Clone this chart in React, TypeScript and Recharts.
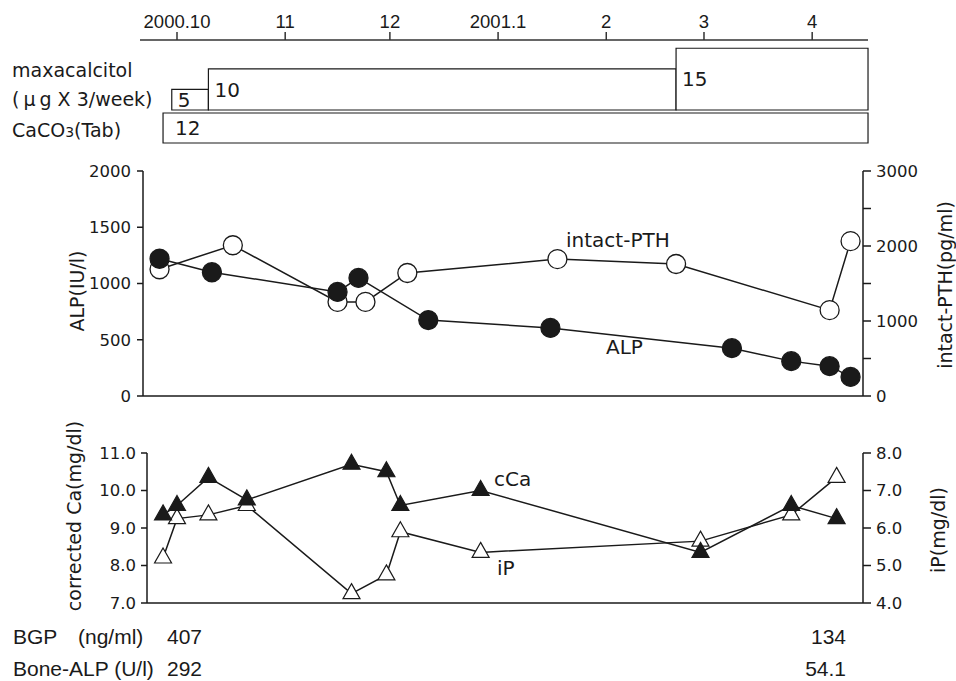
import { ComposedChart, Line, XAxis, YAxis, ReferenceArea, ReferenceLine } from 'recharts'

// x values are days counted from 2000-10-01
const monthTicks = [0, 31, 61, 92, 123, 151, 182]
const monthLabels = ['2000.10', '11', '12', '2001.1', '2', '3', '4']

const maxaStart = [-1.5, 9, 143]
const maxaEnd = [9, 143, 198]
const maxaDose = [5, 10, 15]

const caco3Start = [-4]
const caco3End = [198]
const caco3Dose = [12]

const alpDays = [-5, 10, 46, 52, 72, 107, 159, 176, 187, 193]
const alpValues = [1220, 1100, 925, 1050, 675, 605, 425, 310, 265, 170]

const pthDays = [-5, 16, 46, 54, 66, 109, 143, 187, 193]
const pthValues = [1690, 2010, 1255, 1255, 1640, 1825, 1760, 1145, 2065]

const caDays = [-4, 0, 9, 20, 50, 60, 64, 87, 150, 176, 189]
const cCaValues = [9.35, 9.6, 10.35, 9.75, 10.7, 10.5, 9.6, 10.0, 8.35, 9.6, 9.25]
const iPValues = [5.2, 6.25, 6.35, 6.6, 4.25, 4.75, 5.9, 5.35, 5.65, 6.35, 7.35]

const alpTicks = [0, 500, 1000, 1500, 2000]
const pthTicks = [0, 500, 1000, 1500, 2000, 2500, 3000]
const caTicks = [7, 8, 9, 10, 11]
const ipTicks = [4, 5, 6, 7, 8]

// pixel placement of the time axis (px = PX0 + PXD * day)
const PX0 = 177
const PXD = 3.49
const dom = (l: number, r: number): [number, number] => [(l - PX0) / PXD, (r - PX0) / PXD]

const INK = '#1a1a1a'
const tickFont = { fontFamily: 'DejaVu Sans', fontSize: 16.5, fill: INK }

const toPoints = (xs: number[], ys: number[]) => xs.map((d, i) => ({ day: d, v: ys[i] }))

const alpData = toPoints(alpDays, alpValues)
const pthData = toPoints(pthDays, pthValues)
const cCaData = toPoints(caDays, cCaValues)
const iPData = toPoints(caDays, iPValues)
const tickData = monthTicks.map((d) => ({ day: d }))

function circleDot(filled: boolean) {
  return (p: any) => (
    <circle
      key={`c-${p.index}`}
      cx={p.cx}
      cy={p.cy}
      r={9.5}
      fill={filled ? INK : '#fff'}
      stroke={INK}
      strokeWidth={1.3}
    />
  )
}

function triDot(filled: boolean) {
  return (p: any) => {
    const w = 17
    const h = 15
    const d = `M${p.cx},${p.cy - (2 * h) / 3} L${p.cx + w / 2},${p.cy + h / 3} L${p.cx - w / 2},${p.cy + h / 3} Z`
    return <path key={`t-${p.index}`} d={d} fill={filled ? INK : '#fff'} stroke={INK} strokeWidth={1.2} />
  }
}

function Txt({ x, y, size = 19, family = 'DejaVu Sans', right, children }: any) {
  const pos: any = right ? { right: 956 - x } : { left: x }
  return (
    <div style={{ position: 'absolute', top: y, ...pos, fontSize: size, fontFamily: family, lineHeight: 1, whiteSpace: 'nowrap', color: INK }}>
      {children}
    </div>
  )
}

function RotTxt({ cx, cy, children }: any) {
  return (
    <div
      style={{
        position: 'absolute',
        left: cx,
        top: cy,
        transform: 'translate(-50%, -50%) rotate(-90deg)',
        fontSize: 19,
        fontFamily: 'DejaVu Sans',
        lineHeight: 1,
        whiteSpace: 'nowrap',
        color: INK,
      }}
    >
      {children}
    </div>
  )
}

function boxLabel(v: number, offset: number) {
  return { value: String(v), position: 'insideLeft' as const, offset, fill: INK, fontSize: 20, fontFamily: 'DejaVu Sans' }
}

export default function App() {
  const domTop = dom(140, 868)
  const domC = dom(143, 863)
  const domD = dom(147, 863)

  return (
    <div style={{ position: 'absolute', left: 0, top: 0, width: 956, height: 681, background: '#fff', overflow: 'hidden' }}>
      {/* time axis + maxacalcitol doses */}
      <div style={{ position: 'absolute', left: 0, top: 0 }}>
        <ComposedChart width={956} height={112} data={tickData} margin={{ top: 10, right: 88, bottom: 2, left: 140 }}>
          <XAxis
            dataKey="day"
            type="number"
            orientation="top"
            domain={domTop}
            allowDataOverflow
            ticks={monthTicks}
            tickFormatter={(v: number) => monthLabels[monthTicks.indexOf(v)]}
            height={30}
            tickSize={8}
            tickMargin={4}
            stroke="#333"
            strokeWidth={1.5}
            tick={{ fontFamily: 'Liberation Sans', fontSize: 18.5, fill: INK }}
          />
          <YAxis hide type="number" domain={[0, 17]} allowDataOverflow />
          {maxaDose.map((d, i) => (
            <ReferenceArea
              key={i}
              x1={maxaStart[i]}
              x2={maxaEnd[i]}
              y1={0}
              y2={d}
              fill="#fff"
              fillOpacity={1}
              stroke={INK}
              strokeWidth={1.2}
              ifOverflow="visible"
              label={boxLabel(d, 6)}
            />
          ))}
        </ComposedChart>
      </div>

      {/* CaCO3 */}
      <div style={{ position: 'absolute', left: 0, top: 100 }}>
        <ComposedChart width={956} height={50} data={tickData} margin={{ top: 13, right: 88, bottom: 7, left: 140 }}>
          <XAxis hide dataKey="day" type="number" domain={domTop} allowDataOverflow />
          <YAxis hide type="number" domain={[0, 12]} allowDataOverflow />
          {caco3Dose.map((d, i) => (
            <ReferenceArea
              key={i}
              x1={caco3Start[i]}
              x2={caco3End[i]}
              y1={0}
              y2={d}
              fill="#fff"
              fillOpacity={1}
              stroke={INK}
              strokeWidth={1.2}
              ifOverflow="visible"
              label={boxLabel(d, 12)}
            />
          ))}
        </ComposedChart>
      </div>

      {/* ALP / intact-PTH */}
      <div style={{ position: 'absolute', left: 0, top: 150 }}>
        <ComposedChart width={956} height={260} margin={{ top: 21, right: 0, bottom: 14, left: 0 }}>
          <XAxis hide dataKey="day" type="number" domain={domC} allowDataOverflow />
          <YAxis
            yAxisId="alp"
            orientation="left"
            width={143}
            type="number"
            domain={[0, 2000]}
            ticks={alpTicks}
            tickSize={6}
            tickMargin={6}
            stroke={INK}
            strokeWidth={1.5}
            tick={tickFont}
          />
          <YAxis
            yAxisId="pth"
            orientation="right"
            width={93}
            type="number"
            domain={[0, 3000]}
            ticks={pthTicks}
            tickFormatter={(v: number) => (v % 1000 === 0 ? String(v) : '')}
            tickSize={8}
            tickMargin={5}
            stroke={INK}
            strokeWidth={1.5}
            tick={tickFont}
          />
          <ReferenceLine yAxisId="alp" y={0} stroke={INK} strokeWidth={1.5} />
          <Line
            yAxisId="pth"
            data={pthData}
            dataKey="v"
            type="linear"
            stroke={INK}
            strokeWidth={1.5}
            dot={circleDot(false)}
            isAnimationActive={false}
          />
          <Line
            yAxisId="alp"
            data={alpData}
            dataKey="v"
            type="linear"
            stroke={INK}
            strokeWidth={1.5}
            dot={circleDot(true)}
            isAnimationActive={false}
          />
        </ComposedChart>
      </div>

      {/* corrected Ca / iP */}
      <div style={{ position: 'absolute', left: 0, top: 430 }}>
        <ComposedChart width={956} height={190} margin={{ top: 23, right: 0, bottom: 17, left: 0 }}>
          <XAxis hide dataKey="day" type="number" domain={domD} allowDataOverflow />
          <YAxis
            yAxisId="ca"
            orientation="left"
            width={147}
            type="number"
            domain={[7, 11]}
            ticks={caTicks}
            tickFormatter={(v: number) => v.toFixed(1)}
            tickSize={6}
            tickMargin={5}
            stroke={INK}
            strokeWidth={1.5}
            tick={tickFont}
          />
          <YAxis
            yAxisId="ip"
            orientation="right"
            width={93}
            type="number"
            domain={[4, 8]}
            ticks={ipTicks}
            tickFormatter={(v: number) => v.toFixed(1)}
            tickSize={8}
            tickMargin={5}
            stroke={INK}
            strokeWidth={1.5}
            tick={tickFont}
          />
          <ReferenceLine yAxisId="ca" y={7} stroke={INK} strokeWidth={1.5} />
          <Line
            yAxisId="ip"
            data={iPData}
            dataKey="v"
            type="linear"
            stroke={INK}
            strokeWidth={1.5}
            dot={triDot(false)}
            isAnimationActive={false}
          />
          <Line
            yAxisId="ca"
            data={cCaData}
            dataKey="v"
            type="linear"
            stroke={INK}
            strokeWidth={1.5}
            dot={triDot(true)}
            isAnimationActive={false}
          />
        </ComposedChart>
      </div>

      {/* dose row labels */}
      <Txt x={12} y={61}>maxacalcitol</Txt>
      <Txt x={12} y={90}>
        (<span style={{ margin: '0 4px' }}>μ</span>g X 3/week)
      </Txt>
      <Txt x={12} y={121}>
        CaCO<span style={{ fontSize: 14 }}>3</span>(Tab)
      </Txt>

      {/* series labels */}
      <Txt x={566} y={230} size={20}>intact-PTH</Txt>
      <Txt x={606} y={337} size={20}>ALP</Txt>
      <Txt x={494} y={469} size={20}>cCa</Txt>
      <Txt x={497} y={558} size={20}>iP</Txt>

      {/* axis titles */}
      <RotTxt cx={77} cy={291}>ALP(IU/l)</RotTxt>
      <RotTxt cx={945} cy={285}>intact-PTH(pg/ml)</RotTxt>
      <RotTxt cx={74} cy={516}>corrected Ca(mg/dl)</RotTxt>
      <RotTxt cx={938} cy={530}>iP(mg/dl)</RotTxt>

      {/* marker values */}
      <Txt x={13} y={626} size={21} family="Liberation Sans">BGP</Txt>
      <Txt x={78} y={626} size={21} family="Liberation Sans">(ng/ml)</Txt>
      <Txt x={167} y={626} size={21} family="Liberation Sans">407</Txt>
      <Txt x={846} y={626} size={21} family="Liberation Sans" right>134</Txt>
      <Txt x={13} y={658} size={21} family="Liberation Sans">Bone-ALP (U/l)</Txt>
      <Txt x={167} y={658} size={21} family="Liberation Sans">292</Txt>
      <Txt x={846} y={658} size={21} family="Liberation Sans" right>54.1</Txt>
    </div>
  )
}
